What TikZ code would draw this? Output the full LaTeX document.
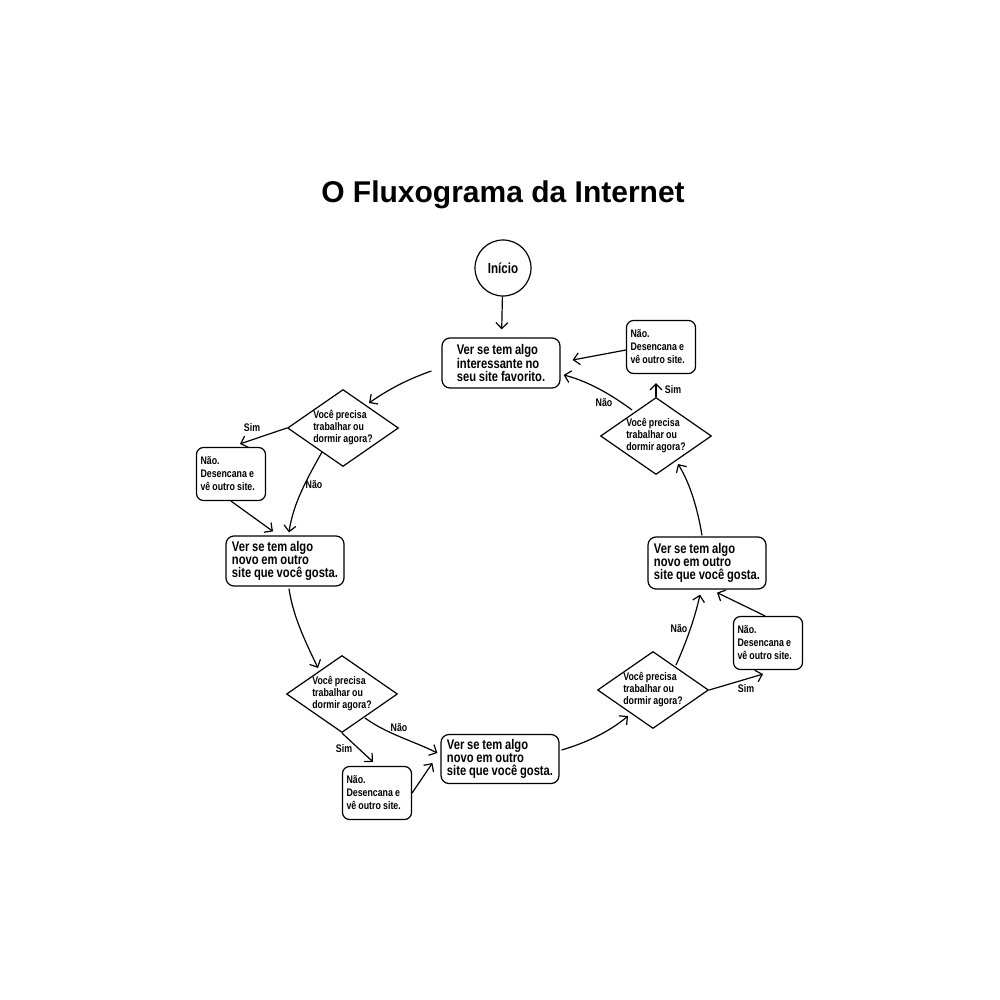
\documentclass[tikz,border=0pt]{standalone}
\usepackage{fontspec}
\setmainfont{Liberation Sans}[FakeStretch=0.8]
\newfontfamily\titlefont{Liberation Sans}
\usetikzlibrary{shapes.geometric,arrows.meta,calc}
\newcommand\tightsp{\spaceskip=0.2em plus 0.05em\relax}
\tikzset{
  arr/.style={-{Straight Barb[length=6pt,width=12pt,line width=1.2pt]}},
  bigbox/.style={draw, rounded corners=8pt, minimum width=118pt, minimum height=50pt, align=left, inner sep=2pt, font=\fontsize{14}{12.6}\selectfont\bfseries, execute at begin node=\tightsp},
  nobox/.style={draw, rounded corners=7pt, text width=61pt, inner xsep=4pt, minimum height=53pt, align=left, font=\fontsize{11}{13}\selectfont\bfseries, execute at begin node=\tightsp},
  ask/.style={draw, diamond, aspect=1.44, inner sep=0pt, minimum width=111pt, minimum height=77pt, align=left, font=\fontsize{11}{12}\selectfont\bfseries, execute at begin node=\tightsp},
  lbl/.style={font=\fontsize{11}{13}\selectfont\bfseries, inner sep=0pt},
}
\begin{document}
\begin{tikzpicture}[x=1pt,y=-1pt,line width=1.2pt]
\fill[white] (0,0) rectangle (1000,1000);
\useasboundingbox (0,0) rectangle (1000,1000);

\node[anchor=base, font=\titlefont\fontsize{30}{36}\selectfont\bfseries] (title) at (503,203) {O Fluxograma da Internet};

\node[draw, circle, minimum size=56pt, inner sep=0pt, font=\fontsize{14.5}{16}\selectfont\bfseries] (start) at (503,268) {Início};
\node[bigbox] (A) at (501,363) {Ver se tem algo\\interessante no\\seu site favorito.};
\node[ask] (D1) at (343,428) {Você precisa\\trabalhar ou\\dormir agora?};
\node[nobox] (N1) at (231,474) {Não.\\Desencana e\\vê outro site.};
\node[bigbox] (B) at (285,561) {Ver se tem algo\\novo em outro\\site que você gosta.};
\node[ask] (D2) at (342,694) {Você precisa\\trabalhar ou\\dormir agora?};
\node[nobox] (N2) at (377,793) {Não.\\Desencana e\\vê outro site.};
\node[bigbox, minimum height=49pt] (C) at (500,759) {Ver se tem algo\\novo em outro\\site que você gosta.};
\node[ask] (D3) at (653,690) {Você precisa\\trabalhar ou\\dormir agora?};
\node[nobox] (N3) at (768,643) {Não.\\Desencana e\\vê outro site.};
\node[bigbox, minimum height=52pt] (D) at (707,563) {Ver se tem algo\\novo em outro\\site que você gosta.};
\node[ask] (D4) at (656,436) {Você precisa\\trabalhar ou\\dormir agora?};
\node[nobox] (N4) at (661,347) {Não.\\Desencana e\\vê outro site.};

% connectors
\draw[arr, shorten >=8pt] (start) -- (A);
\draw[arr] ($(A.west)+(-10,8)$) .. controls +(-23,8) and +(20,-14) .. ($(D1)+(26,-25)$);
\draw[arr] (D1.west) -- ($(N1.north)+(9,-3)$);
\draw[arr] (N1.south) -- ($(B.north)+(-12,-4)$);
\draw[arr] ($(D1)+(-21,24)$) .. controls +(-14,25) and +(4,-29) .. ($(B.north)+(4,-3)$);
\draw[arr] ($(B.south)+(4,2)$) .. controls +(4,28) and +(-12,-25) .. ($(D2)+(-24,-26)$);
\draw[arr] ($(D2)+(23,24)$) .. controls +(22,16) and +(-24,-12) .. ($(C.west)+(-3,-6)$);
\draw[arr] (D2.south) -- ($(N2.north)+(-4,-4)$);
\draw[arr] (N2.east) -- ($(C.west)+(-8,4)$);
\draw[arr] ($(C.east)+(2,-9)$) .. controls +(24,-7) and +(-19,16) .. ($(D3)+(-25,26)$);
\draw[arr] ($(D3)+(23,-25)$) .. controls +(10,-22) and +(-5,23) .. ($(D.south)+(-7,5)$);
\draw[arr] (D3.east) -- ($(N3.south)+(-5,4)$);
\draw[arr] ($(N3.north)+(-3,0)$) -- ($(D.south)+(10,3)$);
\draw[arr] ($(D.north)+(-5,-1)$) .. controls +(-4,-24) and +(13,21) .. ($(D4)+(22,28)$);
\draw[arr] (D4.north) -- ($(N4.south)+(-5,9)$);
\draw[arr] ($(D4)+(-24,-26)$) .. controls +(-20,-15) and +(24,6) .. ($(A.east)+(3,12)$);
\draw[arr] ($(N4.west)+(0,3)$) -- ($(A.east)+(12,-3)$);

% labels
\node[lbl] (l1) at (252,428) {Sim};
\node[lbl] (l2) at (314,485) {Não};
\node[lbl] (l3) at (399,728) {Não};
\node[lbl] (l4) at (344,749) {Sim};
\node[lbl] (l5) at (679,629) {Não};
\node[lbl] (l6) at (746,689) {Sim};
\node[lbl] (l7) at (673,390) {Sim};
\node[lbl] (l8) at (604,403) {Não};
\end{tikzpicture}
\end{document}
